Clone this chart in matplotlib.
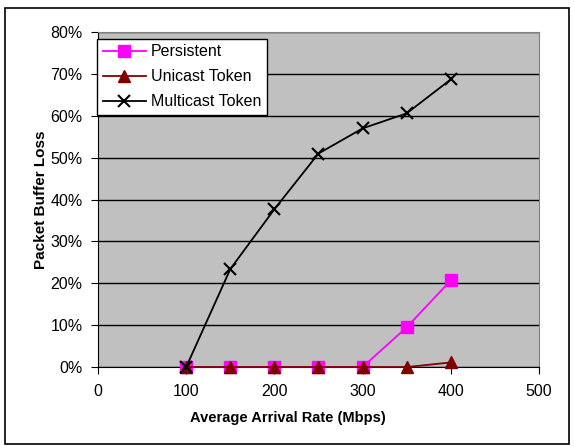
import matplotlib.pyplot as plt
from matplotlib.patches import Rectangle
from matplotlib.ticker import FuncFormatter

plt.rcParams['font.family'] = ['Liberation Sans', 'DejaVu Sans']

rate = [100, 150, 200, 250, 300, 350, 400]
persistent = [0.0, 0.0, 0.0, 0.0, 0.0, 9.5, 20.7]
unicast = [0.0, 0.0, 0.0, 0.0, 0.0, 0.0, 1.1]
multicast = [0.0, 23.4, 37.7, 51.0, 57.0, 60.6, 68.7]

fig = plt.figure(figsize=(5.74, 4.46), dpi=100)
ax = fig.add_axes([0.1707, 0.177, 0.7683, 0.751])
ax.set_facecolor('#c0c0c0')

ax.plot(rate, persistent, color='#ff00ff', marker='s', markersize=8, linewidth=1.3,
        label='Persistent', clip_on=False, zorder=3)
ax.plot(rate, unicast, color='#800000', marker='^', markersize=8, linewidth=1.3,
        label='Unicast Token', clip_on=False, zorder=4)
ax.plot(rate, multicast, color='black', marker='x', markersize=9, markeredgewidth=1.5, linewidth=1.3,
        label='Multicast Token', clip_on=False, zorder=5)

ax.set_xlim(0, 500)
ax.set_ylim(0, 80)
ax.set_xticks(range(0, 501, 100))
ax.set_yticks(range(0, 81, 10))
ax.yaxis.set_major_formatter(FuncFormatter(lambda v, p: '%d%%' % v))
ax.grid(axis='y', color='black', linewidth=1)
ax.set_axisbelow(True)
ax.tick_params(labelsize=11.5, length=5, color='black')
ax.tick_params(axis='x', pad=7)
ax.tick_params(axis='y', pad=6)
for s in ['top', 'right']:
    ax.spines[s].set_color('#808080')
for s in ['left', 'bottom']:
    ax.spines[s].set_color('black')

ax.set_xlabel('Average Arrival Rate (Mbps)', fontsize=10.5, fontweight='bold', labelpad=9)
ax.xaxis.label.set_x(0.43)
ax.set_ylabel('Packet Buffer Loss', fontsize=11, fontweight='bold', labelpad=2)

leg = ax.legend(loc='upper left', bbox_to_anchor=(-0.002, 0.98), fontsize=11.5, frameon=True,
                fancybox=False, edgecolor='black', framealpha=1, borderaxespad=0,
                handlelength=2.7, handletextpad=0.3, labelspacing=0.62, borderpad=0.35)
leg.get_frame().set_linewidth(1)
leg.set_zorder(10)

fig.patches.append(Rectangle((0.008, 0.004), 0.984, 0.978, transform=fig.transFigure,
                             fill=False, edgecolor='black', linewidth=1.2))

fig.savefig('out.png', dpi=100)
